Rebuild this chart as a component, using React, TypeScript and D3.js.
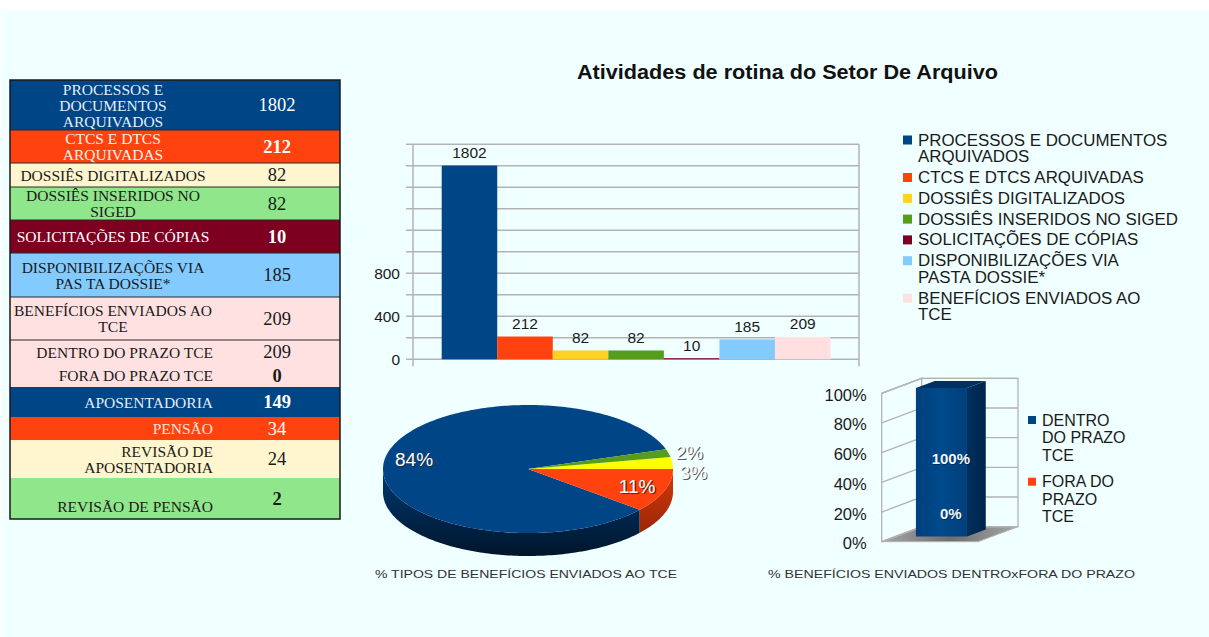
import React from 'react';
import * as d3 from 'd3';

// ---------------- DATA ----------------
const tableLabels: string[][] = [
  ['PROCESSOS E', 'DOCUMENTOS', 'ARQUIVADOS'],
  ['CTCS E DTCS', 'ARQUIVADAS'],
  ['DOSSIÊS DIGITALIZADOS'],
  ['DOSSIÊS INSERIDOS NO', 'SIGED'],
  ['SOLICITAÇÕES DE CÓPIAS'],
  ['DISPONIBILIZAÇÕES VIA', 'PAS TA DOSSIE*'],
  ['BENEFÍCIOS ENVIADOS  AO', 'TCE'],
  ['DENTRO DO PRAZO TCE'],
  ['FORA DO PRAZO TCE'],
  ['APOSENTADORIA'],
  ['PENSÃO'],
  ['REVISÃO DE', 'APOSENTADORIA'],
  ['REVISÃO DE PENSÃO'],
];
const tableValues = [1802, 212, 82, 82, 10, 185, 209, 209, 0, 149, 34, 24, 2];

const barSeries = [
  'PROCESSOS E DOCUMENTOS ARQUIVADOS',
  'CTCS E DTCS ARQUIVADAS',
  'DOSSIÊS DIGITALIZADOS',
  'DOSSIÊS INSERIDOS NO SIGED',
  'SOLICITAÇÕES DE CÓPIAS',
  'DISPONIBILIZAÇÕES VIA PASTA DOSSIE*',
  'BENEFÍCIOS ENVIADOS AO TCE',
];
const barValues = [1802, 212, 82, 82, 10, 185, 209];
const barLegendLines: string[][] = [
  ['PROCESSOS E DOCUMENTOS', 'ARQUIVADOS'],
  ['CTCS E DTCS ARQUIVADAS'],
  ['DOSSIÊS DIGITALIZADOS'],
  ['DOSSIÊS INSERIDOS NO SIGED'],
  ['SOLICITAÇÕES DE CÓPIAS'],
  ['DISPONIBILIZAÇÕES VIA', 'PASTA DOSSIE*'],
  ['BENEFÍCIOS ENVIADOS AO', 'TCE'],
];
const barGridTicks = [0, 200, 400, 600, 800, 1000, 1200, 1400, 1600, 1800, 2000];
const barTickLabels = [0, 400, 800];

const pieCategories = ['APOSENTADORIA', 'PENSÃO', 'REVISÃO DE APOSENTADORIA', 'REVISÃO DE PENSÃO'];
const pieValues = [84, 11, 3, 2];

const pctCategories = ['DENTRO DO PRAZO TCE', 'FORA DO PRAZO TCE'];
const pctValues = [100, 0];
const pctLegendLines: string[][] = [
  ['DENTRO', 'DO PRAZO', 'TCE'],
  ['FORA DO', 'PRAZO', 'TCE'],
];
const pctTicks = [0, 20, 40, 60, 80, 100];

const title = 'Atividades de rotina do Setor De Arquivo';
const pieCaption = '% TIPOS DE BENEFÍCIOS ENVIADOS AO TCE';
const pctCaption = '% BENEFÍCIOS ENVIADOS DENTROxFORA DO PRAZO';

// ---------------- STYLES ----------------
const SANS = '"Liberation Sans", Arial, sans-serif';
const SERIF = '"Liberation Serif", "Times New Roman", serif';
const barColors = ['#004586', '#ff420e', '#ffd320', '#579d1c', '#7e0021', '#83caff', '#ffdfdf'];
const rowFills = ['#004586', '#ff420e', '#fff5ce', '#8fe68b', '#7e0021', '#83caff', '#ffe1e1', '#ffe1e1', '#ffe1e1', '#004586', '#ff420e', '#fff5ce', '#8fe68b'];
const rowText = ['#e6eef7', '#fff4ee', '#1a1a1a', '#1a1a1a', '#ffffff', '#1a1a1a', '#1a1a1a', '#1a1a1a', '#1a1a1a', '#e3ecf7', '#ffe6dc', '#1a1a1a', '#1a1a1a'];
const rowValueBold = [false, true, false, false, true, false, false, false, true, true, false, false, true];
const rowTops = [80, 130, 163, 187, 220, 253, 297, 340, 364, 387, 417, 440, 478, 519];
const pieColors = ['#004586', '#ff420e', '#ffff00', '#579d1c'];
const pieWallTop = ['#003a72', '#d8380b', '#d4d400', '#457d16'];
const pieWallBot = ['#00152b', '#9a2606', '#a0a000', '#2c520d'];
const pctColors = ['#004586', '#ff420e'];
const GRID = '#b3b3b3';

export default function App() {
  // ---------- table ----------
  const table = (
    <g>
      {tableLabels.map((lines, i) => {
        const y0 = rowTops[i];
        const y1 = rowTops[i + 1];
        const cy = (y0 + y1) / 2;
        const centered = i < 7;
        const extra = i === 12 ? 8 : 0;
        const lh = 16;
        return (
          <g key={i}>
            <rect x={10} y={y0} width={330} height={y1 - y0} fill={rowFills[i]} />
            {lines.map((ln, j) => (
              <text
                key={j}
                x={centered ? 113 : 213}
                y={cy + extra + (j - (lines.length - 1) / 2) * lh}
                textAnchor={centered ? 'middle' : 'end'}
                dominantBaseline="central"
                fontFamily={SERIF}
                fontSize={15.5}
                fill={rowText[i]}
              >
                {ln}
              </text>
            ))}
            <text
              x={277}
              y={cy}
              textAnchor="middle"
              dominantBaseline="central"
              fontFamily={SERIF}
              fontSize={18.5}
              fontWeight={rowValueBold[i] ? 'bold' : 'normal'}
              fill={rowText[i] === '#1a1a1a' ? '#1a1a1a' : '#ffffff'}
            >
              {tableValues[i]}
            </text>
          </g>
        );
      })}
      {rowTops.slice(1, 9).map((y, i) =>
        i === 7 ? null : <line key={i} x1={10} x2={340} y1={y} y2={y} stroke="#2a2a2a" strokeWidth={1} />
      )}
      <rect x={10} y={80} width={330} height={439} fill="none" stroke="#1a1a1a" strokeWidth={1.5} />
    </g>
  );

  // ---------- bar chart ----------
  const yBar = d3.scaleLinear().domain([0, 2000]).range([359.3, 144.3]);
  const xBar = d3.scaleBand<string>().domain(barSeries).range([441.7, 830.5]).padding(0);
  const axisX = 413;
  const plotRight = 859;
  const barChart = (
    <g>
      {barGridTicks.map((t) => (
        <line key={t} x1={406} x2={plotRight} y1={yBar(t)} y2={yBar(t)} stroke={GRID} strokeWidth={1.5} />
      ))}
      <line x1={axisX} x2={axisX} y1={yBar(2000)} y2={yBar(0) + 7} stroke={GRID} strokeWidth={1.5} />
      <line x1={plotRight} x2={plotRight} y1={yBar(2000)} y2={yBar(0) + 7} stroke={GRID} strokeWidth={1.5} />
      {barSeries.map((s, i) => (
        <rect
          key={s}
          x={xBar(s)!}
          y={yBar(barValues[i])}
          width={xBar.bandwidth()}
          height={yBar(0) - yBar(barValues[i])}
          fill={barColors[i]}
        />
      ))}
      {barSeries.map((s, i) => (
        <text
          key={'l' + s}
          x={xBar(s)! + xBar.bandwidth() / 2}
          y={yBar(barValues[i]) - 13}
          textAnchor="middle"
          dominantBaseline="central"
          fontFamily={SANS}
          fontSize={15.5}
          fill="#1a1a1a"
        >
          {barValues[i]}
        </text>
      ))}
      {barTickLabels.map((t) => (
        <text key={'t' + t} x={400} y={yBar(t)} textAnchor="end" dominantBaseline="central" fontFamily={SANS} fontSize={15.5} fill="#1a1a1a">
          {t}
        </text>
      ))}
    </g>
  );

  // legend
  const legendItems: JSX.Element[] = [];
  {
    let y = 140;
    barLegendLines.forEach((lines, i) => {
      legendItems.push(
        <g key={i}>
          <rect x={903} y={y - 4.5} width={9} height={9} fill={barColors[i]} />
          {lines.map((ln, j) => (
            <text key={j} x={918} y={y + j * 16.7} dominantBaseline="central" fontFamily={SANS} fontSize={16.9} fill="#1a1a1a">
              {ln}
            </text>
          ))}
        </g>
      );
      y += lines.length * 16.7 + 4.1;
    });
  }

  // ---------- 3D pie ----------
  const pcx = 528, pcy = 469, rx = 145, ry = 64, depth = 23;
  const P = (a: number, k = 1, dy = 0): [number, number] => [pcx + rx * k * Math.sin(a), pcy - ry * k * Math.cos(a) + dy];
  const start = Math.PI / 2 - Math.PI * 0.1;
  const arcs = d3.pie<number>().sort(null).value((d) => d).startAngle(start).endAngle(start - 2 * Math.PI)(pieValues);
  const sample = (a0: number, a1: number, dy: number) => {
    const n = Math.max(2, Math.ceil(Math.abs(a1 - a0) / 0.02));
    const pts: [number, number][] = [];
    for (let i = 0; i <= n; i++) pts.push(P(a0 + ((a1 - a0) * i) / n, 1, dy));
    return pts;
  };
  const walls: JSX.Element[] = [];
  arcs.forEach((a, i) => {
    const lo = Math.min(a.startAngle, a.endAngle);
    const hi = Math.max(a.startAngle, a.endAngle);
    for (let k = -2; k <= 1; k++) {
      const vs = Math.PI / 2 + 2 * Math.PI * k;
      const ve = (3 * Math.PI) / 2 + 2 * Math.PI * k;
      const s = Math.max(lo, vs);
      const e = Math.min(hi, ve);
      if (s < e) {
        const top = sample(s, e, 0);
        const bot = sample(e, s, depth);
        const d = 'M' + top.map((p) => p.join(',')).join('L') + 'L' + bot.map((p) => p.join(',')).join('L') + 'Z';
        walls.push(<path key={i + '_' + k} d={d} fill={`url(#pw${i})`} />);
      }
    }
  });
  const tops = arcs.map((a, i) => {
    const pts = sample(a.startAngle, a.endAngle, 0);
    const d = `M${pcx},${pcy}L` + pts.map((p) => p.join(',')).join('L') + 'Z';
    return <path key={i} d={d} fill={pieColors[i]} />;
  });
  // labels
  const total = d3.sum(pieValues);
  const pieLabels: { x: number; y: number; t: string; anchor: string }[] = [];
  const outside: { x: number; y: number; t: string; anchor: string }[] = [];
  arcs.forEach((a, i) => {
    const mid = (a.startAngle + a.endAngle) / 2;
    const t = Math.round((pieValues[i] / total) * 100) + '%';
    if (pieValues[i] >= 5) {
      const [x, y] = P(mid, 0.8);
      pieLabels.push({ x, y, t, anchor: 'middle' });
    } else {
      const [x, y] = P(mid, 1.05);
      outside.push({ x, y, t, anchor: 'start' });
    }
  });
  outside.sort((p, q) => p.y - q.y);
  for (let i = 1; i < outside.length; i++) {
    if (outside[i].y - outside[i - 1].y < 20) outside[i].y = outside[i - 1].y + 20;
  }
  const allLabels = pieLabels.concat(outside);
  const pie = (
    <g>
      {walls}
      {tops}
      {allLabels.map((l, i) => (
        <g key={i}>
          <text x={l.x + 1.2} y={l.y + 1.2} textAnchor={l.anchor as any} dominantBaseline="central" fontFamily={SANS} fontSize={19} fill="#222" opacity={0.75}>
            {l.t}
          </text>
          <text x={l.x} y={l.y} textAnchor={l.anchor as any} dominantBaseline="central" fontFamily={SANS} fontSize={19} fill="#ffffff">
            {l.t}
          </text>
        </g>
      ))}
      <text x={375} y={574} dominantBaseline="central" fontFamily={SANS} fontSize={11.5} fill="#333" textLength={302} lengthAdjust="spacingAndGlyphs">
        {pieCaption}
      </text>
    </g>
  );

  // ---------- 3D percent bar ----------
  const y3 = d3.scaleLinear().domain([0, 100]).range([541.7, 393.3]);
  const DX = 40, DY = -15;
  const xFront = d3.scaleBand<string>().domain(['TCE']).range([881.7, 978]).paddingInner(0).paddingOuter(0);
  const proj = (u: number, v: number, d: number): [number, number] => [u + DX * d, y3(v) + DY * d];
  const bandL = xFront('TCE')!;
  const bw = xFront.bandwidth();
  const u0 = bandL + bw * 0.21, u1 = bandL + bw * 0.74;
  const d0 = 0.35, d1 = 0.82;
  const poly = (pts: [number, number][]) => pts.map((p) => p.join(',')).join(' ');
  // stacked: FORA (0) at bottom, DENTRO above
  const stackOrder = [1, 0];
  let cum = 0;
  const segs = stackOrder.map((idx) => {
    const s = { idx, v0: cum, v1: cum + pctValues[idx] };
    cum += pctValues[idx];
    return s;
  });
  const pctChart = (
    <g>
      <polygon points={poly([proj(881.7, 0, 0), proj(978, 0, 0), proj(978, 0, 1), proj(881.7, 0, 1)])} fill="url(#floor)" stroke={GRID} strokeWidth={1} />
      <polygon points={poly([proj(881.7, 0, 0), proj(881.7, 0, 1), proj(881.7, 100, 1), proj(881.7, 100, 0)])} fill="none" stroke={GRID} strokeWidth={1.3} />
      <polyline points={poly([proj(881.7, 0, 1), proj(978, 0, 1), proj(978, 100, 1), proj(881.7, 100, 1)])} fill="none" stroke={GRID} strokeWidth={1.3} />
      {pctTicks.map((t) => (
        <polyline key={t} points={poly([proj(881.7, t, 0), proj(881.7, t, 1), proj(978, t, 1)])} fill="none" stroke={GRID} strokeWidth={1.3} />
      ))}
      {segs.map((s) =>
        s.v1 > s.v0 ? (
          <g key={s.idx}>
            <polygon points={poly([proj(u1, s.v0, d0), proj(u1, s.v0, d1), proj(u1, s.v1, d1), proj(u1, s.v1, d0)])} fill="url(#side3d)" />
            <polygon points={poly([proj(u0, s.v1, d0), proj(u1, s.v1, d0), proj(u1, s.v1, d1), proj(u0, s.v1, d1)])} fill="#00305f" />
            <polygon points={poly([proj(u0, s.v0, d0), proj(u1, s.v0, d0), proj(u1, s.v1, d0), proj(u0, s.v1, d0)])} fill="url(#front3d)" />
          </g>
        ) : null
      )}
      {segs.map((s) => {
        const dm = (d0 + d1) / 2;
        const [x, y] = proj((u0 + u1) / 2, (s.v0 + s.v1) / 2, dm);
        const yy = s.v1 === s.v0 ? y - 19 : y;
        return (
          <g key={'lab' + s.idx}>
            <text x={x + 0.8} y={yy + 0.8} textAnchor="middle" dominantBaseline="central" fontFamily={SANS} fontSize={15} fontWeight="bold" fill="#001a33" opacity={0.6}>
              {pctValues[s.idx] + '%'}
            </text>
            <text x={x} y={yy} textAnchor="middle" dominantBaseline="central" fontFamily={SANS} fontSize={15} fontWeight="bold" fill="#f2f6fb">
              {pctValues[s.idx] + '%'}
            </text>
          </g>
        );
      })}
      {pctTicks.map((t) => (
        <text key={'y' + t} x={866.7} y={y3(t) + 1.5} textAnchor="end" dominantBaseline="central" fontFamily={SANS} fontSize={16.5} fill="#1a1a1a">
          {t + '%'}
        </text>
      ))}
      {pctLegendLines.map((lines, i) => {
        const yy = 420 + i * 61.7;
        return (
          <g key={'pl' + i}>
            <rect x={1028} y={yy - 4} width={8} height={8} fill={pctColors[i]} />
            {lines.map((ln, j) => (
              <text key={j} x={1042} y={yy + j * 17.5} dominantBaseline="central" fontFamily={SANS} fontSize={16} fill="#1a1a1a">
                {ln}
              </text>
            ))}
          </g>
        );
      })}
      <text x={768} y={574} dominantBaseline="central" fontFamily={SANS} fontSize={11.5} fill="#333" textLength={367} lengthAdjust="spacingAndGlyphs">
        {pctCaption}
      </text>
    </g>
  );

  return (
    <svg width={1209} height={637} style={{ position: 'absolute', left: 0, top: 0, display: 'block' }} xmlns="http://www.w3.org/2000/svg">
      <defs>
        {pieColors.map((c, i) => (
          <linearGradient key={i} id={`pw${i}`} x1="0" y1="0" x2="0" y2="1">
            <stop offset="0" stopColor={pieWallTop[i]} />
            <stop offset="1" stopColor={pieWallBot[i]} />
          </linearGradient>
        ))}
        <linearGradient id="floor" x1="0" y1="0" x2="1" y2="0">
          <stop offset="0" stopColor="#a6a6a6" />
          <stop offset="0.5" stopColor="#6e6e6e" />
          <stop offset="1" stopColor="#a6a6a6" />
        </linearGradient>
        <linearGradient id="front3d" x1="0" y1="0" x2="1" y2="0">
          <stop offset="0" stopColor="#003f7c" />
          <stop offset="0.5" stopColor="#004a8c" />
          <stop offset="1" stopColor="#003f7c" />
        </linearGradient>
        <linearGradient id="side3d" x1="0" y1="0" x2="1" y2="0">
          <stop offset="0" stopColor="#00305e" />
          <stop offset="1" stopColor="#00254a" />
        </linearGradient>
      </defs>
      <rect x={0} y={0} width={1209} height={637} fill="#ffffff" />
      <rect x={1} y={11} width={1208} height={626} fill="#f0ffff" />
      <text x={787.5} y={72} textAnchor="middle" dominantBaseline="central" fontFamily={SANS} fontSize={20} fontWeight="bold" fill="#111" textLength={421} lengthAdjust="spacingAndGlyphs">
        {title}
      </text>
      {table}
      {barChart}
      <g>{legendItems}</g>
      {pie}
      {pctChart}
    </svg>
  );
}
